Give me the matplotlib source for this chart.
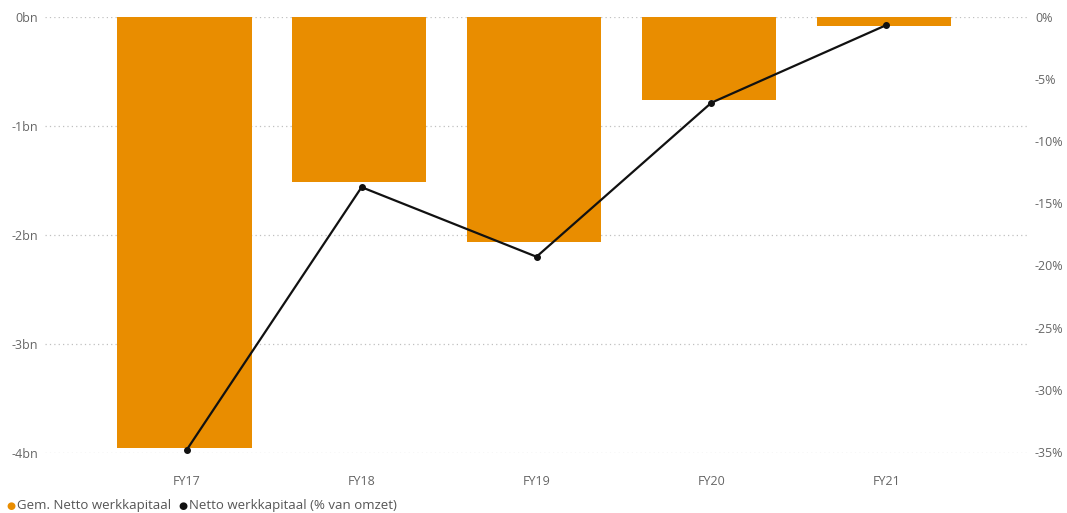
import matplotlib.pyplot as plt
import numpy as np

categories = ["FY17", "FY18", "FY19", "FY20", "FY21"]
werkkapitaal_bn = [-3.95, -1.51, -2.06, -0.76, -0.08]
werkkapitaal_pct = [-34.85, -13.7, -19.3, -6.9, -0.65]
left_ticks = [0, -1, -2, -3, -4]
left_labels = ["0bn", "-1bn", "-2bn", "-3bn", "-4bn"]
right_ticks = [0, -5, -10, -15, -20, -25, -30, -35]

plt.rcParams['font.family'] = ['Open Sans', 'DejaVu Sans']

fig = plt.figure(figsize=(10.67, 5.13), dpi=100)
ax = fig.add_axes([45 / 1067, 1 - 453 / 513, (1028 - 45) / 1067, (453 - 17) / 513])
x = np.arange(len(categories))

# columns sit a hair left of the category centre
ax.bar(x - 0.014, werkkapitaal_bn, width=0.77, color="#E98D00", zorder=2)
ax.set_ylim(-4, 0)
ax.set_xlim(-0.81, 4.81)
ax.set_yticks(left_ticks)
ax.set_yticklabels(left_labels)
ax.grid(axis="y", color="#c0c0c0", linestyle=(0, (1, 2.5)), linewidth=0.9, zorder=0)
ax.set_xticks(x)
ax.set_xticklabels(categories)
ax.tick_params(axis="y", length=0, pad=5, labelsize=9, labelcolor="#666666")
ax.tick_params(axis="x", length=0, pad=16, labelsize=9, labelcolor="#666666")
for s in ax.spines.values():
    s.set_visible(False)

ax2 = ax.twinx()
ax2.plot(x, werkkapitaal_pct, color="#111111", linewidth=1.6, marker="o", markersize=4, zorder=3)
ax2.set_ylim(-35.1, 0)
ax2.set_yticks(right_ticks)
ax2.set_yticklabels([f"{t}%" for t in right_ticks])
ax2.tick_params(axis="y", length=0, pad=5, labelsize=9, labelcolor="#666666")
for s in ax2.spines.values():
    s.set_visible(False)

ly = 1 - 506 / 513
fig.text(0.006, ly, "\u25CF", color="#E98D00", fontsize=7.5, va="center")
fig.text(0.0155, ly, "Gem. Netto werkkapitaal", color="#555555", fontsize=9.5, va="center")
fig.text(0.1675, ly, "\u25CF", color="#111111", fontsize=7.5, va="center")
fig.text(0.177, ly, "Netto werkkapitaal (% van omzet)", color="#555555", fontsize=9.5, va="center")

fig.savefig("out.png", dpi=100)
